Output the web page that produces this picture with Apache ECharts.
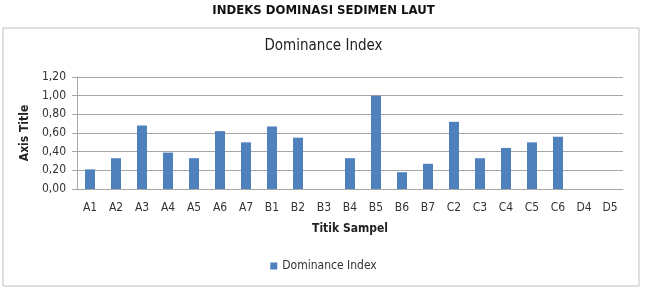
<!DOCTYPE html>
<html>
<head>
<meta charset="utf-8">
<script src="https://cdn.jsdelivr.net/npm/echarts@6/dist/echarts.min.js"></script>
<style>
  html, body { margin: 0; padding: 0; background: #fff; }
  #chart { width: 647px; height: 295px; }
</style>
</head>
<body>
<div id="chart"></div>
<script>
  // sample points and dominance values
  const categories = ['A1', 'A2', 'A3', 'A4', 'A5', 'A6', 'A7', 'B1', 'B2', 'B3', 'B4',
    'B5', 'B6', 'B7', 'C2', 'C3', 'C4', 'C5', 'C6', 'D4', 'D5'];
  const dominance = [0.21, 0.33, 0.68, 0.39, 0.33, 0.62, 0.50, 0.67, 0.55, 0, 0.33,
    1.00, 0.18, 0.27, 0.72, 0.33, 0.44, 0.50, 0.56, 0, 0];
  const yTicks = [0, 0.2, 0.4, 0.6, 0.8, 1.0, 1.2];

  const font = '"Liberation Sans Narrow", "DejaVu Sans Condensed", "DejaVu Sans", sans-serif';
  const chart = echarts.init(document.getElementById('chart'), null, { renderer: 'canvas' });

  chart.setOption({
    animation: false,
    textStyle: { fontFamily: font },
    graphic: [
      {
        type: 'rect',
        shape: { x: 3, y: 28, width: 636, height: 258 },
        style: { fill: 'none', stroke: '#bfbfbf', lineWidth: 1 },
        z: 0,
      },
      {
        type: 'text',
        left: 'center',
        top: 4,
        style: {
          text: 'INDEKS DOMINASI SEDIMEN LAUT',
          font: 'bold 13px ' + font,
          fill: '#111',
        },
      },
      {
        type: 'text',
        left: 'center',
        top: 39,
        style: {
          text: 'Dominance Index',
          font: '15px ' + font,
          fill: '#222',
        },
      },
    ],
    legend: {
      bottom: 18,
      left: 'center',
      itemWidth: 7,
      itemHeight: 7,
      icon: 'rect',
      itemGap: 4,
      textStyle: { fontSize: 12, color: '#333', fontFamily: font },
      data: ['Dominance Index'],
    },
    grid: {
      left: 77,
      right: 24,
      top: 77,
      bottom: 106,
    },
    xAxis: {
      type: 'category',
      data: categories,
      name: 'Titik Sampel',
      nameLocation: 'middle',
      nameGap: 34,
      nameTextStyle: { fontSize: 12, fontWeight: 'bold', color: '#222', fontFamily: font },
      axisLine: { lineStyle: { color: '#a6a6a6' } },
      axisTick: { show: false },
      axisLabel: { color: '#333', fontSize: 12, margin: 13, interval: 0 },
    },
    yAxis: {
      type: 'value',
      min: 0,
      max: 1.2,
      interval: 0.2,
      name: 'Axis Title',
      nameLocation: 'middle',
      nameRotate: 90,
      nameGap: 43,
      nameTextStyle: { fontSize: 12, fontWeight: 'bold', color: '#222', fontFamily: font },
      axisLine: { show: true, lineStyle: { color: '#a6a6a6' } },
      axisTick: { show: true, length: 5, lineStyle: { color: '#a6a6a6' } },
      splitLine: { show: true, lineStyle: { color: '#a6a6a6' } },
      axisLabel: {
        color: '#333',
        fontSize: 12,
        margin: 11,
        customValues: yTicks,
        formatter: (v) => v.toFixed(2).replace('.', ','),
      },
    },
    series: [
      {
        name: 'Dominance Index',
        type: 'bar',
        data: dominance,
        barWidth: 10,
        itemStyle: { color: '#4f81bd' },
      },
    ],
  });
</script>
</body>
</html>
